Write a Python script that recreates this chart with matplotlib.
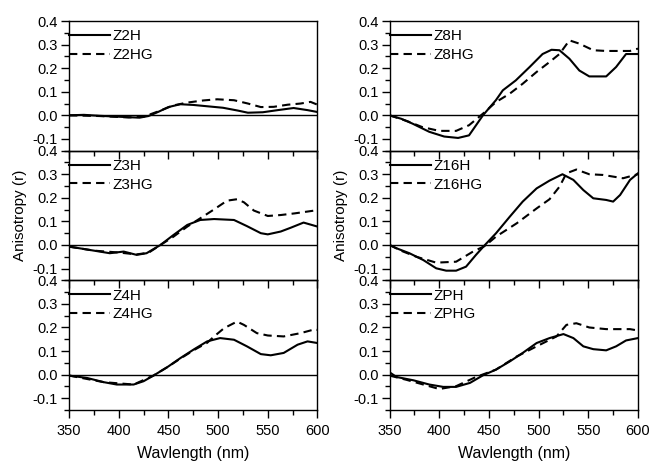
import numpy as np
import matplotlib.pyplot as plt

plt.rcParams['font.family'] = ['Liberation Sans', 'DejaVu Sans']

# ---- data (wavelength nm, anisotropy r) ----
z2h_x = [350, 365, 380, 395, 410, 421, 430, 440, 450, 462, 475, 490, 505, 520, 530, 545, 560, 576, 590, 600]
z2h_y = [0.0, 0.002, -0.002, -0.005, -0.008, -0.01, -0.003, 0.015, 0.035, 0.047, 0.044, 0.038, 0.032, 0.02, 0.011, 0.013, 0.022, 0.031, 0.022, 0.014]
z2hg_x = [350, 380, 410, 425, 440, 455, 469, 485, 499, 516, 530, 543, 556, 570, 583, 593, 600]
z2hg_y = [0.0, -0.003, -0.009, -0.006, 0.017, 0.042, 0.054, 0.063, 0.068, 0.064, 0.05, 0.035, 0.036, 0.045, 0.05, 0.057, 0.045]

z3h_x = [350, 362, 375, 391, 405, 418, 428, 442, 455, 469, 482, 496, 516, 529, 543, 550, 563, 573, 586, 600]
z3h_y = [-0.007, -0.015, -0.024, -0.035, -0.028, -0.042, -0.035, 0.0, 0.042, 0.085, 0.106, 0.11, 0.106, 0.08, 0.05, 0.045, 0.057, 0.073, 0.095, 0.078]
z3hg_x = [350, 375, 400, 418, 430, 442, 455, 469, 482, 496, 509, 519, 526, 536, 550, 563, 577, 597, 600]
z3hg_y = [-0.007, -0.024, -0.032, -0.04, -0.033, 0.0, 0.035, 0.078, 0.113, 0.151, 0.188, 0.194, 0.181, 0.146, 0.123, 0.127, 0.134, 0.146, 0.145]

z4h_x = [350, 368, 385, 398, 415, 425, 435, 449, 462, 476, 489, 502, 516, 529, 543, 553, 566, 580, 590, 600]
z4h_y = [-0.004, -0.014, -0.032, -0.042, -0.042, -0.028, -0.004, 0.032, 0.07, 0.108, 0.141, 0.155, 0.148, 0.12, 0.087, 0.082, 0.092, 0.127, 0.141, 0.134]
z4hg_x = [350, 385, 415, 435, 449, 462, 476, 489, 496, 506, 519, 526, 539, 550, 566, 583, 598, 600]
z4hg_y = [-0.004, -0.032, -0.042, -0.004, 0.032, 0.068, 0.105, 0.135, 0.162, 0.197, 0.225, 0.211, 0.176, 0.166, 0.162, 0.176, 0.193, 0.19]

z8h_x = [350, 362, 373, 390, 405, 419, 430, 444, 457, 464, 477, 491, 504, 513, 521, 531, 541, 551, 568, 578, 588, 600]
z8h_y = [0.0, -0.015, -0.035, -0.07, -0.09, -0.096, -0.085, 0.0, 0.064, 0.106, 0.148, 0.205, 0.26, 0.278, 0.276, 0.24, 0.19, 0.165, 0.165, 0.205, 0.26, 0.26]
z8hg_x = [350, 368, 383, 400, 417, 430, 444, 457, 471, 484, 498, 511, 521, 531, 541, 555, 568, 592, 600]
z8hg_y = [0.0, -0.025, -0.05, -0.066, -0.066, -0.042, 0.007, 0.056, 0.092, 0.134, 0.184, 0.226, 0.26, 0.318, 0.304, 0.276, 0.273, 0.273, 0.283]

z16h_x = [350, 357, 370, 384, 397, 407, 417, 427, 437, 446, 457, 471, 484, 498, 511, 524, 535, 545, 555, 568, 575, 582, 592, 600]
z16h_y = [0.0, -0.014, -0.035, -0.064, -0.099, -0.109, -0.109, -0.092, -0.042, 0.0, 0.049, 0.12, 0.184, 0.24, 0.273, 0.3, 0.276, 0.233, 0.198, 0.191, 0.184, 0.212, 0.276, 0.304]
z16hg_x = [350, 362, 377, 397, 417, 434, 446, 457, 478, 498, 511, 521, 528, 538, 551, 565, 585, 597, 600]
z16hg_y = [0.0, -0.025, -0.05, -0.075, -0.071, -0.028, -0.004, 0.035, 0.092, 0.155, 0.194, 0.247, 0.304, 0.32, 0.3, 0.297, 0.283, 0.297, 0.3]

zph_x = [350, 357, 374, 390, 404, 417, 431, 444, 457, 471, 484, 498, 511, 525, 535, 545, 555, 568, 578, 588, 600]
zph_y = [0.01, -0.01, -0.024, -0.042, -0.052, -0.052, -0.035, -0.003, 0.021, 0.056, 0.092, 0.134, 0.155, 0.172, 0.155, 0.12, 0.108, 0.103, 0.12, 0.145, 0.155]
zphg_x = [350, 367, 384, 400, 417, 437, 457, 478, 498, 518, 528, 538, 551, 568, 592, 600]
zphg_y = [-0.004, -0.022, -0.042, -0.061, -0.049, -0.01, 0.021, 0.077, 0.12, 0.162, 0.211, 0.218, 0.2, 0.193, 0.193, 0.187]

panels = [
    [(z2h_x, z2h_y, 'Z2H'), (z2hg_x, z2hg_y, 'Z2HG')],
    [(z8h_x, z8h_y, 'Z8H'), (z8hg_x, z8hg_y, 'Z8HG')],
    [(z3h_x, z3h_y, 'Z3H'), (z3hg_x, z3hg_y, 'Z3HG')],
    [(z16h_x, z16h_y, 'Z16H'), (z16hg_x, z16hg_y, 'Z16HG')],
    [(z4h_x, z4h_y, 'Z4H'), (z4hg_x, z4hg_y, 'Z4HG')],
    [(zph_x, zph_y, 'ZPH'), (zphg_x, zphg_y, 'ZPHG')],
]

fig, axes = plt.subplots(3, 2, sharex=True, figsize=(6.53, 4.63), dpi=100)
fig.subplots_adjust(left=0.1057, right=0.977, top=0.9546, bottom=0.1145, hspace=0, wspace=0.29)

for i, ax in enumerate(axes.flat):
    solid, dashed = panels[i]
    ax.patch.set_visible(False)  # let ticks of the panel above show through
    ax.axhline(0, color='black', lw=1.0, zorder=1)
    ax.plot(solid[0], solid[1], color='black', lw=1.5, label=solid[2])
    ax.plot(dashed[0], dashed[1], color='black', lw=1.5, ls=(0, (4, 2.5)), label=dashed[2])
    ax.set_xlim(350, 600)
    ax.set_ylim(-0.15, 0.4)
    ax.set_xticks(np.arange(350, 601, 50))
    ax.set_xticks(np.arange(375, 600, 50), minor=True)
    ax.set_yticks(np.arange(-0.1, 0.41, 0.1))
    ax.set_yticks(np.arange(-0.15, 0.4, 0.1), minor=True)
    ax.set_yticklabels(['-0.1', '0.0', '0.1', '0.2', '0.3', '0.4'])
    ax.tick_params(direction='out', labelsize=10.5, length=6, width=1, pad=2)
    ax.tick_params(axis='x', pad=4)
    ax.tick_params(which='minor', direction='out', length=3.5, width=1)
    for s in ax.spines.values():
        s.set_linewidth(1.0)
    ax.legend(loc='upper left', bbox_to_anchor=(0, 0.935), frameon=False, fontsize=11,
              handlelength=2.7, handletextpad=0.15, borderpad=0, borderaxespad=0,
              labelspacing=0.3)

axes[1, 0].set_ylabel('Anisotropy (r)', fontsize=11)
axes[1, 1].set_ylabel('Anisotropy (r)', fontsize=11)
axes[2, 0].set_xlabel('Wavlength (nm)', fontsize=11.5, labelpad=6)
axes[2, 1].set_xlabel('Wavlength (nm)', fontsize=11.5, labelpad=6)

fig.savefig('out.png')
